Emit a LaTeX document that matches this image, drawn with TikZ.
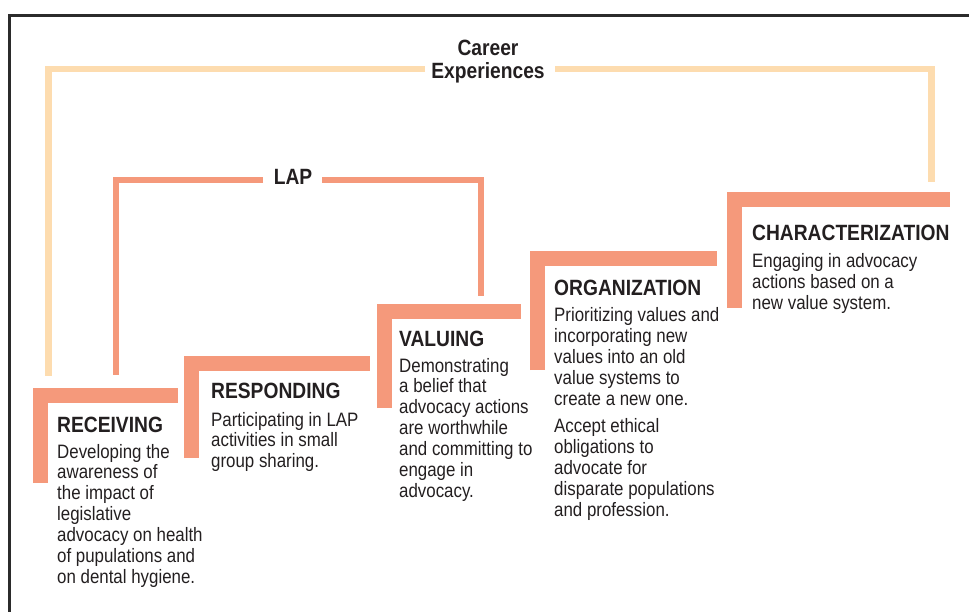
\documentclass[tikz,border=0pt]{standalone}
\usepackage{fontspec}
\setmainfont{Liberation Sans}[FakeStretch=0.87]

\definecolor{salmon}{HTML}{F5997B}
\definecolor{peach}{HTML}{FDDCAF}
\definecolor{ink}{HTML}{231F20}
\definecolor{rulegray}{HTML}{2B2B2B}

\newcommand\titlesize{\fontsize{22.1}{20.9}\selectfont\bfseries}
\newcommand\bodysize{\fontsize{19.4}{20.9}\selectfont}
% stacked lines whose baseline is that of the first line
\newcommand\textlines[1]{\begin{tabular}[t]{@{}l@{}}#1\end{tabular}}
\newcommand\centredlines[1]{\begin{tabular}[t]{@{}c@{}}#1\end{tabular}}

\tikzset{
  frameline/.style={draw=rulegray, line width=2.5pt, line join=miter},
  stagebar/.style={draw=salmon, line width=15pt, line cap=butt, line join=miter},
  lapline/.style={draw=salmon, line width=6pt, line cap=butt, line join=miter},
  careerline/.style={draw=peach, line width=6.5pt, line cap=butt, line join=miter},
  stagetitle/.style={anchor=base west, inner sep=0pt, text=ink, font=\titlesize},
  stagetext/.style={anchor=base west, inner sep=0pt, text=ink, font=\bodysize},
  bracketlabel/.style={anchor=base, inner sep=0pt, text=ink, font=\titlesize},
}

\begin{document}
\begin{tikzpicture}[x=1pt, y=-1pt]
\useasboundingbox (0,0) rectangle (969,612);

% open frame along the top and left
\coordinate (frameTR) at (969,15.5);
\coordinate (frameBL) at (9.7,612);
\draw[frameline] (frameTR) -| (frameBL);

% stage steps: vertical leg bottom and horizontal leg end
\coordinate (recvFoot) at (40.5,483);  \coordinate (recvEnd) at (178,395.5);
\coordinate (respFoot) at (191.5,458); \coordinate (respEnd) at (370,363.5);
\coordinate (valFoot)  at (384.5,408); \coordinate (valEnd)  at (521,311.5);
\coordinate (orgFoot)  at (537.5,370); \coordinate (orgEnd)  at (717,258.5);
\coordinate (charFoot) at (734.5,308); \coordinate (charEnd) at (950,199.5);
\draw[stagebar] (recvFoot) |- (recvEnd);
\draw[stagebar] (respFoot) |- (respEnd);
\draw[stagebar] (valFoot)  |- (valEnd);
\draw[stagebar] (orgFoot)  |- (orgEnd);
\draw[stagebar] (charFoot) |- (charEnd);

% career experiences bracket
\node[bracketlabel] (career) at (488,56) {\centredlines{Career\\Experiences}};
\coordinate (careerL) at (425,69);
\coordinate (careerR) at (555,69);
\coordinate (recvCareer) at (48.5,376);
\coordinate (charCareer) at (931.5,182);
\draw[careerline] (careerL) -| (recvCareer);
\draw[careerline] (careerR) -| (charCareer);

% LAP bracket
\node[bracketlabel] (lap) at (293,185) {LAP};
\coordinate (lapL) at (263,180);
\coordinate (lapR) at (322,180);
\coordinate (recvLap) at (116,375);
\coordinate (valLap) at (480.5,296);
\draw[lapline] (lapL) -| (recvLap);
\draw[lapline] (lapR) -| (valLap);

% stage texts
\node[stagetitle] (recvT) at (57,432) {RECEIVING};
\node[stagetext] (recvB) at (57,458) {\textlines{Developing the\\awareness of\\the impact of\\legislative\\advocacy on health\\of pupulations and\\on dental hygiene.}};

\node[stagetitle] (respT) at (211,398) {RESPONDING};
\node[stagetext] (respB) at (211,426) {\textlines{Participating in LAP\\activities in small\\group sharing.}};

\node[stagetitle] (valT) at (399,346) {VALUING};
\node[stagetext] (valB) at (399,372) {\textlines{Demonstrating\\a belief that\\advocacy actions\\are worthwhile\\and committing to\\engage in\\advocacy.}};

\node[stagetitle] (orgT) at (554,296) {ORGANIZATION};
\node[stagetext] (orgB) at (554,322) {\textlines{Prioritizing values and\\incorporating new\\values into an old\\value systems to\\create a new one.\\[6pt]Accept ethical\\obligations to\\advocate for\\disparate populations\\and profession.}};

\node[stagetitle] (charT) at (752,241) {CHARACTERIZATION};
\node[stagetext] (charB) at (752,268) {\textlines{Engaging in advocacy\\actions based on a\\new value system.}};
\end{tikzpicture}
\end{document}
